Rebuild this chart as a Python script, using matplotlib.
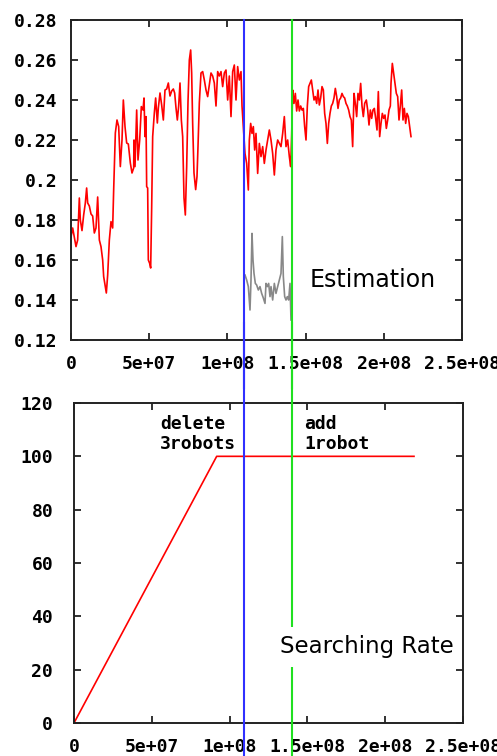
import matplotlib
matplotlib.use('Agg')
import matplotlib.pyplot as plt
from matplotlib.ticker import FormatStrFormatter
from matplotlib.transforms import blended_transform_factory

#  step values are in units of 1e6
est_step = [0.0, 1.07, 2.13, 3.20, 4.26, 5.33, 5.97, 7.03, 8.10, 9.16, 10.0, 10.66,
            11.72, 12.79, 13.85, 14.92, 15.98, 17.05, 18.12, 19.18, 20.25, 20.89,
            21.95, 22.59, 23.45, 24.51, 25.58, 26.64, 27.28, 28.35, 29.41, 30.48,
            31.54, 32.61, 33.46, 34.53, 35.59, 36.66, 37.94, 39.00, 40.07,
            40.28, 40.92, 41.99, 42.84, 43.91, 44.97, 46.04, 46.68, 47.31, 47.95,
            48.38, 49.02, 49.44, 50.30, 50.94, 51.58, 52.22, 53.28, 54.13, 55.20,
            55.84, 56.91, 57.97, 59.04, 60.10, 61.17, 62.23, 63.30, 64.37, 65.43,
            66.28, 67.14, 67.99, 68.84, 69.69, 70.55, 71.40, 72.25, 73.10, 73.96,
            74.81, 75.66, 76.51, 77.15, 77.79, 78.64, 79.71,
            80.56, 81.20, 82.05, 83.12, 84.19, 85.25, 86.32, 87.38, 88.45, 89.51,
            90.58, 91.64, 92.71, 93.78, 94.84, 95.91, 96.97, 98.04, 99.10, 100.17,
            101.23, 102.30, 103.37, 104.43, 105.50, 106.56, 107.63, 108.70, 109.34,
            111.25, 112.32, 113.38, 114.02, 114.88, 115.73, 116.58, 117.44, 118.29,
            119.35, 120.42, 121.48, 122.55, 123.61, 124.68, 125.75, 126.81, 127.88,
            128.94, 130.01, 131.07, 132.14, 133.21, 134.27, 135.34, 136.40, 137.47,
            138.53, 139.60, 140.45, 141.09,
            141.73, 142.58, 143.43, 144.29, 145.14, 145.99, 146.85, 147.70, 148.55,
            149.40, 150.26, 151.11, 151.96, 152.81, 153.67, 154.52, 155.37, 156.22,
            157.08, 157.93, 158.78, 159.63, 160.49, 161.34, 162.19, 163.04, 163.90,
            164.75, 165.60, 166.45, 167.31, 168.16, 169.01, 169.87, 170.72, 171.57,
            172.42, 173.27, 174.13, 174.98, 175.83, 176.68, 177.54, 178.39, 179.24,
            180.09, 180.95, 181.80, 182.65, 183.50, 184.36, 185.21, 186.06, 186.91,
            187.77, 188.83, 189.69, 190.54, 191.39, 192.24, 193.09, 193.95, 194.80,
            195.65, 196.50, 197.36, 198.21, 199.06, 199.92, 200.77, 201.62, 202.47,
            203.32, 204.18, 204.60, 205.45, 206.31, 207.16, 208.01, 208.87, 209.72,
            210.57, 211.43, 212.28, 213.13, 213.98, 214.83, 215.68, 216.54, 217.39]
est_value = [0.1715, 0.176, 0.1715, 0.1667, 0.170, 0.191, 0.180, 0.1747, 0.1825, 0.1885,
             0.196, 0.1885, 0.187, 0.183, 0.182, 0.1735, 0.176, 0.1915, 0.170, 0.1667,
             0.160, 0.1517, 0.1467, 0.1435, 0.1525, 0.170, 0.1792, 0.176, 0.195, 0.2235,
             0.230, 0.2267, 0.2067, 0.220, 0.240, 0.2267, 0.2185, 0.218, 0.2085, 0.2035,
             0.206,
             0.220, 0.2067, 0.235, 0.210, 0.220, 0.2367, 0.235, 0.241, 0.2217, 0.2317,
             0.1967, 0.196, 0.160, 0.1583, 0.156, 0.186, 0.2217, 0.2335, 0.241, 0.2285,
             0.236, 0.2435, 0.2375, 0.230, 0.245, 0.2455, 0.2485, 0.242, 0.2445, 0.2455,
             0.2435, 0.236, 0.230, 0.237, 0.2485, 0.230, 0.2217, 0.191, 0.1825, 0.2067,
             0.2392, 0.260, 0.265, 0.2535, 0.2283, 0.2035, 0.1952,
             0.2017, 0.2167, 0.2385, 0.2535, 0.2542, 0.250, 0.245, 0.2417, 0.2475, 0.2535,
             0.252, 0.2485, 0.237, 0.2542, 0.252, 0.2542, 0.2467, 0.2535, 0.255, 0.240,
             0.252, 0.2317, 0.2542, 0.2575, 0.240, 0.2567, 0.250, 0.2542, 0.237,
             0.2133, 0.2083, 0.195, 0.220, 0.2283, 0.2233, 0.2267, 0.215, 0.2233,
             0.2033, 0.2183, 0.2117, 0.2167, 0.2083, 0.215, 0.220, 0.225, 0.220,
             0.2133, 0.2025, 0.215, 0.220, 0.2183, 0.2167, 0.2233, 0.2317, 0.2167,
             0.220, 0.2117, 0.2067, 0.2225,
             0.245, 0.2383, 0.2433, 0.2345, 0.240, 0.2345, 0.237, 0.235, 0.2358,
             0.2267, 0.220, 0.237, 0.2467, 0.2483, 0.250, 0.245, 0.240, 0.2417,
             0.2383, 0.245, 0.2375, 0.241, 0.2467, 0.245, 0.2333, 0.2283, 0.2183,
             0.2283, 0.2333, 0.237, 0.2383, 0.241, 0.2458, 0.2417, 0.2358, 0.240,
             0.241, 0.2433, 0.2417, 0.241, 0.2383, 0.237, 0.235, 0.2317, 0.230,
             0.2167, 0.2433, 0.2383, 0.2317, 0.2433, 0.240, 0.2483, 0.237, 0.2317,
             0.2383, 0.240, 0.235, 0.2275, 0.235, 0.2308, 0.235, 0.2358, 0.2308,
             0.225, 0.2442, 0.2217, 0.2283, 0.2333, 0.2308, 0.2325, 0.2258, 0.230,
             0.235, 0.237, 0.2483, 0.2583, 0.2533, 0.2483, 0.2433, 0.2417, 0.230,
             0.237, 0.245, 0.230, 0.2358, 0.2283, 0.2333, 0.2317, 0.2267, 0.2217]

#  estimation of the remaining robots (gray), between the two events
sub_step = [111.25, 112.32, 113.38, 114.45, 115.09, 115.73, 116.37, 117.01, 117.86,
            118.71, 119.78, 120.84, 121.91, 122.97, 124.04, 124.68, 125.53, 126.38,
            127.24, 127.88, 128.94, 130.01, 131.07, 132.14, 133.21, 134.27, 135.12,
            135.76, 136.62, 137.47, 138.32, 139.17, 140.03, 140.66]
sub_value = [0.1525, 0.150, 0.1467, 0.135, 0.150, 0.1733, 0.160, 0.1533, 0.1483,
             0.1475, 0.145, 0.1467, 0.1433, 0.141, 0.1383, 0.1483, 0.1467, 0.1483,
             0.1417, 0.1467, 0.140, 0.1483, 0.1433, 0.1467, 0.150, 0.1533, 0.1717,
             0.1517, 0.1417, 0.140, 0.1417, 0.140, 0.1483, 0.130]

rate_step = [0.0, 91.7, 218.5]
rate_value = [0, 100, 100]

delete_step = 110.6
add_step = 141.3

x_ticks = [0, 5e7, 1e8, 1.5e8, 2e8, 2.5e8]

tick_font = {'family': 'DejaVu Sans Mono', 'weight': 'bold', 'size': 13}


def style_axes(ax, ypad):
    ax.set_xlim(0, 2.5e8)
    ax.set_xticks(x_ticks)
    ax.xaxis.set_major_formatter(FormatStrFormatter('%g'))
    ax.yaxis.set_major_formatter(FormatStrFormatter('%g'))
    ax.tick_params(direction='in', length=5, width=1.3, top=True, right=True,
                   color='#222222')
    ax.tick_params(axis='x', pad=11)
    ax.tick_params(axis='y', pad=ypad)
    for lab in ax.get_xticklabels() + ax.get_yticklabels():
        lab.set_fontproperties(tick_font)
    for sp in ax.spines.values():
        sp.set_linewidth(1.4)
        sp.set_color('#222222')


def event_lines(ax, xref, y0, y1):
    #  x from the top panel so both panels share the same pixel column
    trans = blended_transform_factory(xref.transData, ax.transAxes)
    ax.plot([delete_step * 1e6] * 2, [y0, y1], color='#3030ff', lw=1.5,
            transform=trans, clip_on=False, zorder=3)
    ax.plot([add_step * 1e6] * 2, [y0, y1], color='#20e020', lw=1.5,
            transform=trans, clip_on=False, zorder=3)


fig = plt.figure(figsize=(4.97, 7.56), dpi=100)

#  top: estimation
ax1 = fig.add_axes([71 / 497, 1 - 340 / 756, 391 / 497, 320 / 756])
ax1.plot([s * 1e6 for s in est_step], est_value, color='#ff0000', lw=1.2, zorder=2)
ax1.plot([s * 1e6 for s in sub_step], sub_value, color='#888888', lw=1.2, zorder=2)
ax1.set_ylim(0.12, 0.28)
ax1.set_yticks([0.12, 0.14, 0.16, 0.18, 0.2, 0.22, 0.24, 0.26, 0.28])
style_axes(ax1, 10)
event_lines(ax1, ax1, -0.15, 1.0)
ax1.text(152.8e6, 0.15, 'Estimation', fontsize=17, ha='left', va='center',
         family='DejaVu Sans', zorder=4)

#  bottom: searching rate
ax2 = fig.add_axes([74 / 497, 1 - 723 / 756, 389 / 497, 320 / 756])
ax2.plot([s * 1e6 for s in rate_step], rate_value, color='#ff0000', lw=1.2, zorder=2)
ax2.set_ylim(0, 120)
ax2.set_yticks([0, 20, 40, 60, 80, 100, 120])
style_axes(ax2, 15)
event_lines(ax2, ax1, -0.2, 1.25)
ax2.text(55.3e6, 108.5, 'delete\n3robots', fontdict=tick_font, ha='left',
         va='center', linespacing=1.15, zorder=4)
ax2.text(147.8e6, 108.5, 'add\n1robot', fontdict=tick_font, ha='left',
         va='center', linespacing=1.15, zorder=4)
ax2.text(132.4e6, 28.5, 'Searching Rate', fontsize=16.5, ha='left', va='center',
         family='DejaVu Sans', zorder=5, clip_on=False,
         bbox=dict(facecolor='white', edgecolor='none', pad=6))

fig.savefig('out.png', dpi=100)
